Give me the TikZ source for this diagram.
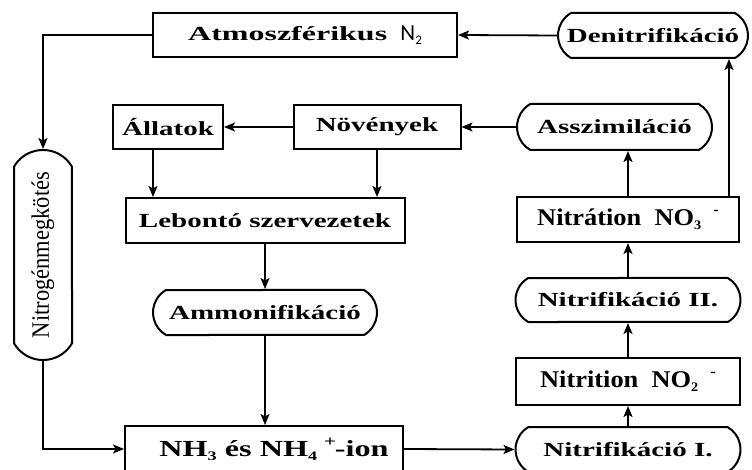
\documentclass[tikz,border=0pt]{standalone}
\usepackage{fontspec}
\usetikzlibrary{arrows.meta,shapes.misc}
\setmainfont{Liberation Serif}
\newfontfamily\widebold[FakeStretch=1.45]{Liberation Serif Bold}
\newfontfamily\widerbold[FakeStretch=1.6]{Liberation Serif Bold}
\newfontfamily\chembold[FakeStretch=1.4]{Liberation Serif Bold}
\newfontfamily\ionbold[FakeStretch=1.1]{Liberation Serif Bold}
\newfontfamily\narrowserif[FakeStretch=0.9]{Liberation Serif}
\newfontfamily\sanslbl{Carlito}
\newcommand\chemsub[1]{\raisebox{-0.35ex}{\fontsize{13}{13}\selectfont #1}}
\newcommand\chemsup[1]{\raisebox{1.0ex}{\fontsize{15}{15}\selectfont #1}}

\tikzset{
  box/.style={draw, line width=2pt, inner sep=0pt, anchor=center,
    font=\widebold\fontsize{20}{22}\selectfont},
  term/.style={box, rounded rectangle, rounded rectangle arc length=120},
  con/.style={draw, line width=1.8pt, -{Stealth[length=11pt,width=9pt,inset=2.5pt]}},
}

\begin{document}
\begin{tikzpicture}[x=1pt,y=-1pt]
\useasboundingbox (0,0) rectangle (752,470);

% top row
\node[box, minimum width=304, minimum height=44, font=\widerbold\fontsize{20}{22}\selectfont]
  (atm) at (305,35)
  {Atmoszférikus {\sanslbl\fontsize{23}{23}\selectfont\ N\chemsub{2}}};
\node[term, minimum width=190, minimum height=45] (den) at (653,35.5) {Denitrifikáció};

% organisms
\node[box, minimum width=110, minimum height=44] (all) at (168,127) {Állatok};
\node[box, minimum width=167, minimum height=44] (nov) at (377,127) {Növények};
\node[term, minimum width=195, minimum height=46] (asz) at (614.5,127) {Asszimiláció};
\node[box, minimum width=279, minimum height=45] (leb) at (265,220.5) {Lebontó szervezetek};
\node[term, minimum width=224, minimum height=45] (amm) at (265,312.5) {Ammonifikáció};
\node[box, minimum width=278, minimum height=46, font=\chembold\fontsize{23}{26}\selectfont]
  (nh) at (264,449) {\kern20pt NH\chemsub{3} és NH\chemsub{4}\kern0.3em\chemsup{+}\kern-0.05em-ion};

% nitrification chain
\node[box, minimum width=222, minimum height=45, font=\ionbold\fontsize{24}{26}\selectfont]
  (nat) at (628,219.5) {Nitrátion\ \ NO\chemsub{3}\kern0.5em\chemsup{-}};
\node[term, minimum width=225, minimum height=44] (n2) at (628,300) {Nitrifikáció II.};
\node[box, minimum width=224, minimum height=47, font=\ionbold\fontsize{24}{26}\selectfont]
  (nit) at (628,381.5) {Nitrition\ \ NO\chemsub{2}\kern0.5em\chemsup{-}};
\node[term, minimum width=225, minimum height=45] (n1) at (628,449.5) {Nitrifikáció I.};

% nitrogen fixation (vertical)
\node[term, rotate=90, minimum width=210, minimum height=58,
  font=\narrowserif\fontsize{25}{27}\selectfont] (fix) at (43,255) {Nitrogénmegkötés};

% connectors
\draw[con] (den.west) -- (atm.east);
\draw[con] (atm.west) -| (fix.east);
\draw[con] (fix.west) |- (nh.west);
\draw[con] (nov.west) -- (all.east);
\draw[con] (asz.west) -- (nov.east);
\draw[con] ([xshift=-15pt]all.south) -- ([xshift=-15pt]all.south |- leb.north);
\draw[con] (nov.south) -- (nov.south |- leb.north);
\draw[con] (leb.south) -- (leb.south |- amm.north);
\draw[con] (amm.south) -- (amm.south |- nh.north);
\draw[con] (nh.east) -- (n1.west);
\draw[con] (n1.north) -- (n1.north |- nit.south);
\draw[con] (nit.north) -- (nit.north |- n2.south);
\draw[con] (n2.north) -- (n2.north |- nat.south);
\draw[con] (nat.north) -- (nat.north |- asz.south);
\draw[con] ([xshift=-11pt]nat.north east) -- ([xshift=-11pt]nat.north east |- den.south);
\end{tikzpicture}
\end{document}
